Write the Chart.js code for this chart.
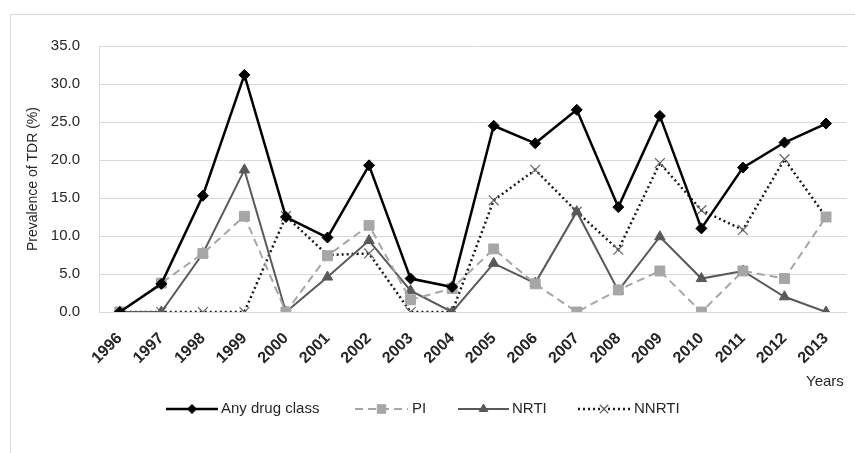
<!DOCTYPE html>
<html>
<head>
<meta charset="utf-8">
<title>Prevalence of TDR</title>
<script src="https://cdn.jsdelivr.net/npm/chart.js@4.4.1/dist/chart.umd.min.js"></script>
<style>
  html, body { margin: 0; padding: 0; background: #fff; }
  #wrap { width: 855px; height: 453px; }
</style>
</head>
<body>
<div id="wrap"><canvas id="tdrChart" width="855" height="453"></canvas></div>
<script>
// Dados do gráfico
const anos = ['1996', '1997', '1998', '1999', '2000', '2001', '2002', '2003', '2004',
    '2005', '2006', '2007', '2008', '2009', '2010', '2011', '2012', '2013'];
const anyDrugClass = [0, 3.7, 15.3, 31.2, 12.5, 9.8, 19.3, 4.4, 3.3, 24.5, 22.2, 26.6, 13.8, 25.8, 11.0, 19.0, 22.3, 24.8];
const piValores = [0, 3.8, 7.7, 12.6, 0, 7.4, 11.4, 1.6, 3.1, 8.3, 3.7, 0, 2.9, 5.4, 0, 5.4, 4.4, 12.5];
const nrtiValores = [0, 0, 7.7, 18.7, 0, 4.6, 9.4, 2.8, 0, 6.4, 3.8, 13.2, 2.8, 9.9, 4.4, 5.4, 2.0, 0];
const nnrtiValores = [0, 0, 0, 0, 12.6, 7.5, 7.7, 0, 0, 14.7, 18.7, 13.2, 8.2, 19.6, 13.4, 10.8, 20.1, 12.5];
const yTicks = [0, 5, 10, 15, 20, 25, 30, 35];

const fonte = '"Liberation Sans", Arial, sans-serif';

const series = [
    { label: 'Any drug class', data: anyDrugClass, color: '#000000', pointColor: '#000000', dash: [], width: 2.5, style: 'rectRot', radius: 5.5, pointBorder: 1 },
    { label: 'PI', data: piValores, color: '#a6a6a6', pointColor: '#a6a6a6', dash: [8, 5], width: 2, style: 'rect', radius: 7, pointBorder: 1 },
    { label: 'NRTI', data: nrtiValores, color: '#595959', pointColor: '#595959', dash: [], width: 2, style: 'triangle', radius: 6, pointBorder: 1 },
    { label: 'NNRTI', data: nnrtiValores, color: '#1a1a1a', pointColor: '#666666', dash: [2, 3], width: 2.5, style: 'crossRot', radius: 7, pointBorder: 1.2 }
];

// Moldura, legenda e título do eixo X
const extras = {
    id: 'extras',
    beforeDraw(chart) {
        const ctx = chart.ctx;
        ctx.save();
        ctx.fillStyle = '#ffffff';
        ctx.fillRect(0, 0, chart.width, chart.height);
        ctx.strokeStyle = '#d9d9d9';
        ctx.lineWidth = 1;
        ctx.strokeRect(10.5, 14.5, chart.width, chart.height);
        ctx.restore();
    },
    afterDraw(chart) {
        const ctx = chart.ctx;
        ctx.save();
        ctx.font = '15px ' + fonte;
        ctx.textBaseline = 'middle';
        ctx.textAlign = 'left';
        ctx.fillStyle = '#262626';
        ctx.fillText('Years', 806, 382);

        const legendY = 409;
        const itens = [
            { x0: 166, x1: 218, tx: 221 },
            { x0: 355, x1: 408, tx: 412 },
            { x0: 458, x1: 509, tx: 512 },
            { x0: 578, x1: 630, tx: 634 }
        ];
        itens.forEach((pos, i) => {
            const s = series[i];
            ctx.beginPath();
            ctx.setLineDash(s.dash);
            ctx.strokeStyle = s.color;
            ctx.lineWidth = s.width;
            ctx.moveTo(pos.x0, legendY);
            ctx.lineTo(pos.x1, legendY);
            ctx.stroke();
            ctx.setLineDash([]);
            // Marcador no meio da linha
            ctx.fillStyle = s.pointColor;
            ctx.strokeStyle = s.pointColor;
            ctx.lineWidth = s.pointBorder;
            Chart.helpers.drawPoint(ctx, {
                pointStyle: s.style,
                radius: s.radius - 1,
                borderWidth: s.pointBorder
            }, (pos.x0 + pos.x1) / 2, legendY);
            ctx.fillStyle = '#262626';
            ctx.fillText(s.label, pos.tx, legendY);
        });
        ctx.restore();
    }
};

new Chart(document.getElementById('tdrChart'), {
    type: 'line',
    data: {
        labels: anos,
        datasets: series.map(s => ({
            label: s.label,
            data: s.data,
            borderColor: s.color,
            borderWidth: s.width,
            borderDash: s.dash,
            pointStyle: s.style,
            pointRadius: s.radius,
            pointBackgroundColor: s.pointColor,
            pointBorderColor: s.pointColor,
            pointBorderWidth: s.pointBorder,
            tension: 0,
            fill: false
        }))
    },
    options: {
        responsive: false,
        animation: false,
        layout: { padding: { left: 10, top: 46, right: 2, bottom: 0 } },
        plugins: {
            legend: { display: false },
            tooltip: { enabled: false }
        },
        scales: {
            x: {
                offset: true,
                grid: { display: false },
                border: { color: '#d9d9d9' },
                ticks: {
                    autoSkip: false,
                    minRotation: 45,
                    maxRotation: 45,
                    padding: 9,
                    color: '#262626',
                    font: { family: fonte, size: 16, weight: 'bold' }
                },
                afterFit(scale) { scale.height = 141; }
            },
            y: {
                min: 0,
                max: 35,
                afterBuildTicks(scale) { scale.ticks = yTicks.map(v => ({ value: v })); },
                grid: { color: '#d9d9d9', drawTicks: false },
                border: { color: '#d9d9d9' },
                ticks: {
                    padding: 19,
                    color: '#262626',
                    font: { family: fonte, size: 15 },
                    callback: v => v.toFixed(1)
                },
                title: {
                    display: true,
                    text: 'Prevalence of TDR (%)',
                    color: '#262626',
                    font: { family: fonte, size: 14 },
                    padding: { top: 15, bottom: 0 }
                },
                afterFit(scale) { scale.width = 89; }
            }
        }
    },
    plugins: [extras]
});
</script>
</body>
</html>
